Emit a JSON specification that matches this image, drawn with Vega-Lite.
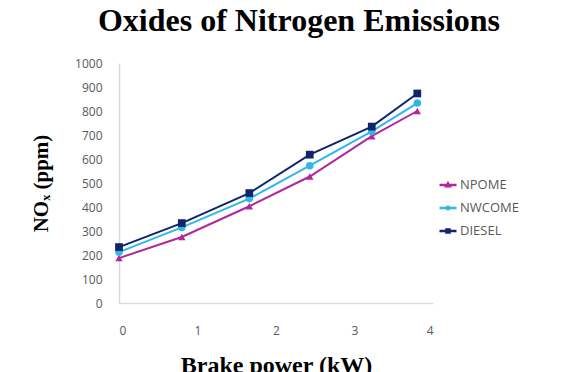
{
  "$schema": "https://vega.github.io/schema/vega-lite/v6.json",
  "width": 314,
  "height": 240,
  "autosize": {"type": "none"},
  "padding": {"left": 119, "top": 63, "right": 143, "bottom": 69},
  "background": "white",
  "title": {
    "text": "Oxides of Nitrogen Emissions",
    "font": "Liberation Serif",
    "fontSize": 32,
    "fontWeight": "bold",
    "color": "#000000",
    "anchor": "middle",
    "baseline": "alphabetic",
    "offset": -6,
    "dx": 23
  },
  "data": {
    "values": [
      {"bp": 0, "nox": 187, "fuel": "NPOME"},
      {"bp": 0.8, "nox": 275, "fuel": "NPOME"},
      {"bp": 1.66, "nox": 403, "fuel": "NPOME"},
      {"bp": 2.43, "nox": 527, "fuel": "NPOME"},
      {"bp": 3.22, "nox": 695, "fuel": "NPOME"},
      {"bp": 3.8, "nox": 800, "fuel": "NPOME"},
      {"bp": 0, "nox": 212, "fuel": "NWCOME"},
      {"bp": 0.8, "nox": 315, "fuel": "NWCOME"},
      {"bp": 1.66, "nox": 435, "fuel": "NWCOME"},
      {"bp": 2.43, "nox": 572, "fuel": "NWCOME"},
      {"bp": 3.22, "nox": 715, "fuel": "NWCOME"},
      {"bp": 3.8, "nox": 833, "fuel": "NWCOME"},
      {"bp": 0, "nox": 233, "fuel": "DIESEL"},
      {"bp": 0.8, "nox": 333, "fuel": "DIESEL"},
      {"bp": 1.66, "nox": 458, "fuel": "DIESEL"},
      {"bp": 2.43, "nox": 618, "fuel": "DIESEL"},
      {"bp": 3.22, "nox": 735, "fuel": "DIESEL"},
      {"bp": 3.8, "nox": 873, "fuel": "DIESEL"}
    ]
  },
  "encoding": {
    "x": {
      "field": "bp",
      "type": "quantitative",
      "scale": {"domain": [0, 4], "nice": false, "zero": false},
      "axis": {
        "title": "Brake power (kW)",
        "values": [0, 1, 2, 3, 4],
        "format": "d",
        "grid": false,
        "ticks": false,
        "domainColor": "#d9d9d9",
        "domainWidth": 1.5,
        "labelFont": "Open Sans",
        "labelFontSize": 12,
        "labelColor": "#595959",
        "labelPadding": 22,
        "titleFont": "Liberation Serif",
        "titleFontSize": 24,
        "titleFontWeight": "bold",
        "titleColor": "#000000",
        "titlePadding": 17
      }
    },
    "y": {
      "field": "nox",
      "type": "quantitative",
      "scale": {"domain": [0, 1000], "nice": false},
      "axis": {
        "title": "NOₓ (ppm)",
        "values": [0, 100, 200, 300, 400, 500, 600, 700, 800, 900, 1000],
        "format": "d",
        "grid": false,
        "ticks": false,
        "domainColor": "#d9d9d9",
        "domainWidth": 1.5,
        "labelFont": "Open Sans",
        "labelFontSize": 12,
        "labelColor": "#595959",
        "labelPadding": 17,
        "titleFont": "Liberation Serif",
        "titleFontSize": 21,
        "titleFontWeight": "bold",
        "titleColor": "#000000",
        "titlePadding": 23
      }
    }
  },
  "layer": [
    {
      "mark": {"type": "line", "strokeWidth": 2},
      "encoding": {
        "color": {
          "field": "fuel",
          "type": "nominal",
          "scale": {
            "domain": ["NPOME", "NWCOME", "DIESEL"],
            "range": ["#b0279e", "#2db8e8", "#10256a"]
          },
          "legend": null
        }
      }
    },
    {
      "mark": {"type": "point", "filled": true, "opacity": 1},
      "encoding": {
        "shape": {
          "field": "fuel",
          "type": "nominal",
          "scale": {
            "domain": ["NPOME", "NWCOME", "DIESEL"],
            "range": ["triangle-up", "circle", "square"]
          },
          "legend": null
        },
        "size": {
          "field": "fuel",
          "type": "nominal",
          "scale": {
            "domain": ["NPOME", "NWCOME", "DIESEL"],
            "range": [55, 60, 110]
          },
          "legend": null
        },
        "color": {
          "field": "fuel",
          "type": "nominal",
          "scale": {
            "domain": ["NPOME", "NWCOME", "DIESEL"],
            "range": ["#b0279e", "#2db8e8", "#10256a"]
          },
          "legend": null
        }
      }
    },
    {
      "transform": [{"filter": "datum.bp > 100"}],
      "mark": {"type": "point", "filled": false, "strokeWidth": 2, "opacity": 1},
      "encoding": {
        "shape": {
          "field": "fuel",
          "type": "nominal",
          "scale": {
            "domain": ["NPOME", "NWCOME", "DIESEL"],
            "range": [
              "M-1,0H1M0,-0.2L0.2,0.16L-0.2,0.16Z",
              "M-1,0H1M0.16,0A0.16,0.16,0,1,1,-0.16,0A0.16,0.16,0,1,1,0.16,0Z",
              "M-1,0H1M-0.18,-0.18H0.18V0.18H-0.18Z"
            ]
          },
          "legend": {
            "title": null,
            "orient": "none",
            "legendX": 319,
            "legendY": 112,
            "symbolSize": 289,
            "symbolStrokeWidth": 2.5,
            "labelFont": "Open Sans",
            "labelFontSize": 13,
            "labelColor": "#595959",
            "labelOffset": 2,
            "rowPadding": 6
          }
        },
        "color": {
          "field": "fuel",
          "type": "nominal",
          "scale": {
            "domain": ["NPOME", "NWCOME", "DIESEL"],
            "range": ["#b0279e", "#2db8e8", "#10256a"]
          },
          "legend": {
            "title": null,
            "orient": "none",
            "legendX": 319,
            "legendY": 112,
            "symbolSize": 289,
            "symbolStrokeWidth": 2.5,
            "labelFont": "Open Sans",
            "labelFontSize": 13,
            "labelColor": "#595959",
            "labelOffset": 2,
            "rowPadding": 6
          }
        }
      }
    }
  ],
  "resolve": {"scale": {"shape": "independent", "size": "independent", "color": "independent"}},
  "config": {"view": {"stroke": null}}
}
